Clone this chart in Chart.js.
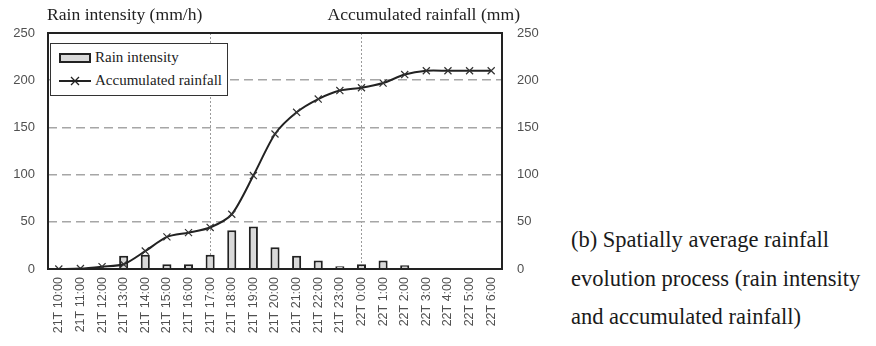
<!DOCTYPE html>
<html>
  <head>
    <meta charset="UTF-8">
    <style>
      body { margin: 0; background: #fff; width: 876px; height: 346px; overflow: hidden; position: relative; font-family: "Liberation Serif", "DejaVu Serif", serif; color: #222; }
      #wrap { position: absolute; left: 0; top: 0; width: 550px; height: 346px; }
      .axis-title { position: absolute; top: 4px; font-size: 17.6px; white-space: nowrap; }
      #legend { position: absolute; left: 50px; top: 43px; width: 176px; height: 51px; border: 1.5px solid #333; background: #fff; font-size: 15px; }
      #legend div { position: absolute; left: 8px; white-space: nowrap; display: flex; align-items: center; }
      #legend svg { margin-right: 3px; }
      #caption { position: absolute; left: 571px; top: 221px; font-size: 22.5px; line-height: 38.5px; white-space: nowrap; color: #1a1a1a; }
    </style>
  </head>
  <body>
    <div id="wrap"><canvas id="rain" width="550" height="346"></canvas></div>
    <div class="axis-title" style="left:47px">Rain intensity (mm/h)</div>
    <div class="axis-title" style="right:356px">Accumulated rainfall (mm)</div>
    <div id="legend">
      <div style="top:5px"><svg width="33" height="12"><rect x="1" y="2" width="30" height="8" fill="#d9d9d9" stroke="#222" stroke-width="2"/></svg>Rain intensity</div>
      <div style="top:28px"><svg width="33" height="12"><line x1="0" y1="6" x2="32" y2="6" stroke="#222" stroke-width="2"/><path d="M12 2 L20 10 M20 2 L12 10" stroke="#222" stroke-width="1.3"/></svg>Accumulated rainfall</div>
    </div>
    <div id="caption">(b) Spatially average rainfall<br>evolution process (rain intensity<br>and accumulated rainfall)</div>

    <script src="https://cdn.jsdelivr.net/npm/chart.js@4.4.0/dist/chart.umd.min.js"></script>
    <script type="text/javascript">

      const hours = ['21T 10:00', '21T 11:00', '21T 12:00', '21T 13:00', '21T 14:00', '21T 15:00', '21T 16:00',
                     '21T 17:00', '21T 18:00', '21T 19:00', '21T 20:00', '21T 21:00', '21T 22:00', '21T 23:00',
                     '22T 0:00', '22T 1:00', '22T 2:00', '22T 3:00', '22T 4:00', '22T 5:00', '22T 6:00'];
      const rainIntensity = [0, 1, 1, 14, 15, 5, 5, 15, 41, 45, 23, 14, 9, 3, 5, 9, 4, 0, 0, 0, 0];
      const accumulated = [0, 0.5, 2.5, 5, 19, 34, 38.5, 44, 58, 99, 143, 166, 180, 189, 192, 197, 206, 210, 210, 210, 210];
      const yTicks = [0, 50, 100, 150, 200, 250];

      const tickFont = { family: '"Liberation Sans", Arial, sans-serif', size: 13 };
      const tickColor = '#505050';

      // black frame round the plot area
      const frame = {
        id: 'frame',
        afterDraw(chart) {
          const a = chart.chartArea, ctx = chart.ctx;
          ctx.save();
          ctx.strokeStyle = '#222';
          ctx.lineWidth = 2;
          ctx.strokeRect(a.left, a.top, a.right - a.left, a.bottom - a.top);
          ctx.restore();
        }
      };

      new Chart(document.getElementById('rain'), {
        data: {
          labels: hours,
          datasets: [
            {
              type: 'line',
              label: 'Accumulated rainfall',
              data: accumulated,
              yAxisID: 'y1',
              borderColor: '#222',
              borderWidth: 2,
              tension: 0.25,
              pointStyle: 'crossRot',
              pointRadius: 5,
              pointBorderWidth: 1.2,
              pointBorderColor: '#333',
              order: 0
            },
            {
              type: 'bar',
              label: 'Rain intensity',
              data: rainIntensity,
              yAxisID: 'y',
              backgroundColor: '#d9d9d9',
              borderColor: '#222',
              borderWidth: 2,
              barPercentage: 0.42,
              categoryPercentage: 1,
              order: 1
            }
          ]
        },
        options: {
          responsive: false,
          animation: false,
          maintainAspectRatio: false,
          layout: { padding: { top: 33, left: 0, right: 0, bottom: 0 } },
          plugins: { legend: { display: false }, tooltip: { enabled: false } },
          scales: {
            x: {
              offset: true,
              grid: {
                offset: false,
                drawTicks: false,
                lineWidth: 1,
                color: (c) => (c.index === 7 || c.index === 14) ? '#9a9a9a' : 'rgba(0,0,0,0)'
              },
              border: { display: false, dash: [2, 2] },
              ticks: { font: { ...tickFont, size: 12.5 }, color: tickColor, minRotation: 90, maxRotation: 90, autoSkip: false, padding: 8 },
              afterFit: (s) => { s.height = 77; }
            },
            y: {
              position: 'left',
              min: 0, max: 250,
              afterBuildTicks: (s) => { s.ticks = yTicks.map(v => ({ value: v })); },
              grid: {
                drawTicks: false,
                lineWidth: 1.5,
                color: (c) => (c.tick.value > 0 && c.tick.value < 250) ? '#a6a6a6' : 'rgba(0,0,0,0)'
              },
              border: { display: false, dash: [9, 5] },
              ticks: { font: tickFont, color: tickColor, padding: 13 },
              afterFit: (s) => { s.width = 48; }
            },
            y1: {
              position: 'right',
              min: 0, max: 250,
              afterBuildTicks: (s) => { s.ticks = yTicks.map(v => ({ value: v })); },
              grid: { display: false, drawTicks: false },
              border: { display: false },
              ticks: { font: tickFont, color: tickColor, padding: 15 },
              afterFit: (s) => { s.width = 48; }
            }
          }
        },
        plugins: [frame]
      });
    </script>
  </body>
</html>
